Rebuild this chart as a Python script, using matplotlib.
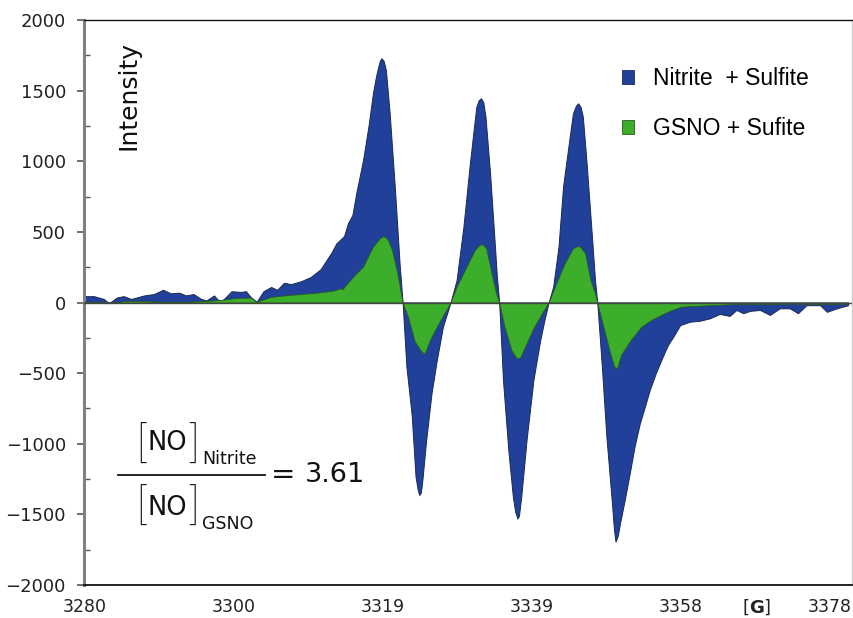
import matplotlib
matplotlib.use("Agg")
import matplotlib.pyplot as plt
from matplotlib.patches import Patch
from matplotlib.lines import Line2D
from matplotlib.ticker import MultipleLocator

# ---- data ----
nitrite_field = [3280.0, 3281.2, 3282.5, 3283.2, 3284.2, 3285.1, 3286.1, 3287.8, 3289.1, 3290.3,
                 3291.3, 3292.4, 3293.3, 3294.3, 3295.3, 3296.0, 3297.0, 3297.4, 3297.9, 3298.3,
                 3299.3, 3300.5, 3301.2, 3301.8, 3302.6, 3303.5, 3304.5, 3305.3, 3306.2, 3307.1,
                 3308.4, 3309.7, 3311.0, 3312.4, 3313.1, 3314.1, 3314.6, 3315.2, 3315.7, 3316.6,
                 3317.3, 3317.9, 3318.3, 3318.6, 3318.8, 3319.0, 3319.3, 3319.6, 3320.1, 3320.8,
                 3321.4, 3321.8, 3322.3,
                 3323.0, 3323.5, 3323.8, 3324.0, 3324.2, 3324.4, 3324.9, 3325.6, 3326.3, 3327.1,
                 3328.1, 3328.9,
                 3329.8, 3330.6, 3331.2, 3331.5, 3331.8, 3332.1, 3332.4, 3332.7, 3333.3, 3333.8,
                 3334.2, 3334.5, 3335.0,
                 3335.7, 3336.3, 3336.6, 3336.9, 3337.1, 3337.4, 3338.1, 3339.0, 3339.9, 3340.5,
                 3341.0, 3341.6,
                 3342.3, 3342.9, 3343.6, 3344.2, 3344.6, 3344.9, 3345.2, 3345.5, 3346.0, 3346.7,
                 3347.1, 3347.4,
                 3348.0, 3348.6, 3349.3, 3349.6, 3349.8, 3350.1, 3350.4, 3351.0, 3351.7, 3352.3,
                 3353.0, 3353.7,
                 3354.3, 3355.1, 3356.0, 3356.7, 3357.4, 3358.3, 3359.6, 3360.9, 3362.2, 3363.5,
                 3364.8, 3365.7, 3366.6, 3367.5, 3368.8, 3370.1, 3371.4, 3372.7, 3373.8, 3374.9,
                 3376.7, 3377.6, 3378.9, 3380.4]
nitrite_int = [45, 45, 25, -5, 35, 45, 25, 50, 60, 90,
               65, 70, 50, 60, 25, 15, 50, 25, 10, 25,
               80, 75, 80, 40, 5, 80, 110, 90, 140, 130,
               150, 180, 235, 350, 420, 470, 560, 620, 773, 1009,
               1245, 1481, 1600, 1669, 1710, 1729, 1712, 1646, 1339, 796,
               277, 0, -454,
               -800, -1233, -1330, -1363, -1345, -1257, -973, -643, -407, -171,
               0, 159,
               537, 961, 1250, 1386, 1432, 1446, 1420, 1316, 915, 513,
               183, 0, -549,
               -1044, -1375, -1480, -1530, -1510, -1375, -973, -549, -265, -112,
               0, 112,
               395, 820, 1103, 1339, 1395, 1410, 1385, 1316, 985, 466,
               159, 0,
               -450, -950, -1400, -1610, -1693, -1650, -1560, -1400, -1200, -1020,
               -855, -730,
               -619, -500, -384, -300, -242, -160, -136, -129, -112, -81,
               -95, -53, -76, -59, -53, -88, -41, -41, -76, -19,
               -19, -66, -41, -19]

gsno_field = [3280.0, 3282.5, 3283.2, 3285.1, 3287.8, 3290.3, 3293.3, 3295.3, 3297.0, 3298.3,
              3299.6, 3301.8, 3302.6, 3304.5, 3306.2, 3308.4, 3310.5, 3312.8, 3313.5, 3313.9,
              3314.9, 3315.6, 3316.6, 3317.2, 3317.9, 3318.8, 3319.2, 3319.5, 3319.9, 3320.4, 3321.1,
              3321.8, 3322.5, 3323.4, 3324.3, 3324.7, 3325.4, 3326.3, 3327.4, 3328.1, 3328.9,
              3330.2, 3331.3, 3331.8, 3332.1, 3332.4, 3332.8, 3333.5, 3334.1, 3334.5, 3335.2, 3336.1,
              3336.7, 3337.0, 3337.3,
              3337.9, 3339.0, 3340.1, 3341.0, 3342.0, 3343.1, 3344.2, 3344.6, 3344.9, 3345.2, 3345.8,
              3346.5,
              3347.1, 3347.4, 3348.2, 3349.1, 3349.6, 3349.8, 3350.1, 3350.5, 3351.8, 3353.2, 3354.5,
              3355.8,
              3357.2, 3358.5, 3360.3, 3363.0, 3366.0, 3368.8, 3372.7, 3376.7, 3380.4]
gsno_int = [5, 5, -5, 10, 10, 5, 5, 10, 15, 20,
            30, 35, 5, 40, 50, 60, 70, 85, 100, 95,
            159, 200, 254, 320, 395, 455, 468, 466, 440, 372, 208,
            0, -100, -277, -348, -363, -265, -171, -65, 0, 112,
            254, 372, 402, 412, 408, 383, 206, 65, 0, -171, -336,
            -388, -395, -385,
            -313, -183, -77, 0, 136, 277, 383, 396, 400, 392, 348,
            159,
            65, 0, -171, -360, -450, -466, -455, -372, -265, -171, -124,
            -88,
            -53, -29, -24, -17, -10, -12, -8, -10, -8]

xtick_pos = [3280, 3299.6, 3319.2, 3338.8, 3358.4, 3378]
xtick_labels = ["3280", "3300", "3319", "3339", "3358", "3378"]
ytick_pos = [-2000, -1500, -1000, -500, 0, 500, 1000, 1500, 2000]

labels = ["Nitrite  + Sulfite", "GSNO + Sufite"]
ratio_text = "3.61"
blue = "#20409A"
green = "#3DAE2B"

plt.rcParams["mathtext.fontset"] = "dejavusans"
fig = plt.figure(figsize=(8.54, 6.18), dpi=100)
ax = fig.add_axes([84/854, 33/618, 768/854, 565/618])

ax.fill_between(nitrite_field, nitrite_int, 0, facecolor=blue, edgecolor="#1a2a55", linewidth=0.7, zorder=2)
ax.fill_between(gsno_field, gsno_int, 0, facecolor=green, edgecolor="#2a5a20", linewidth=0.6, zorder=3)
ax.axhline(0, color="#444444", linewidth=1.0, zorder=4)

ax.set_xlim(3279.9, 3380.9)
ax.set_ylim(-2000, 2000)
ax.set_xticks(xtick_pos)
ax.set_xticklabels(xtick_labels)
ax.set_yticks(ytick_pos)
ax.yaxis.set_minor_locator(MultipleLocator(250))
ax.tick_params(axis="x", length=0, pad=9, labelsize=12.5, labelcolor="#222222")
ax.tick_params(axis="y", which="major", direction="out", length=5, width=1.2,
               color="#555555", pad=8, labelsize=13, labelcolor="#222222")
ax.tick_params(axis="y", which="minor", direction="in", length=4, width=1.0, color="#555555")

ax.spines["left"].set_color("#808080")
ax.spines["left"].set_linewidth(2.2)
ax.spines["bottom"].set_color("#111111")
ax.spines["bottom"].set_linewidth(1.3)
ax.spines["top"].set_color("#111111")
ax.spines["top"].set_linewidth(1.0)
ax.spines["right"].set_color("#cccccc")
ax.spines["right"].set_linewidth(1.0)

ax.text(0.058, 0.962, "Intensity", transform=ax.transAxes, rotation=90,
        ha="center", va="top", fontsize=18, color="#111111")

ax.text(3368.3, -2000, r"$[\mathbf{G}]$", ha="center", va="top",
        fontsize=13, color="#222222",
        transform=ax.transData + matplotlib.transforms.ScaledTranslation(0, -9/72, fig.dpi_scale_trans))

handles = [Patch(facecolor=blue, edgecolor="#1a2a55", linewidth=0.6),
           Patch(facecolor=green, edgecolor="#2a5a20", linewidth=0.6)]
ax.legend(handles, labels, loc="upper left", bbox_to_anchor=(0.70, 0.916), frameon=False,
          prop={"family": "Liberation Sans", "size": 16.5}, handlelength=0.55, handleheight=0.55,
          handletextpad=0.8, labelspacing=1.15, borderpad=0, borderaxespad=0)

# ---- ratio formula, composed from text pieces (positions in figure pixels) ----
W, H = 854, 618
def ftext(x, y, s, **kw):
    fig.text(x / W, 1 - y / H, s, color="#111111", **kw)

bracket_kw = dict(family="Roboto", fontweight="light", fontsize=31, ha="center", va="center")
for yc, yb, sub in [(446.5, 450, "Nitrite"), (508.5, 515, "GSNO")]:
    ftext(141, yc, "[", **bracket_kw)
    ftext(194, yc, "]", **bracket_kw)
    ftext(167.5, yb, "NO", family="DejaVu Sans", fontsize=18.5, ha="center", va="baseline")
    ftext(202, yb + 14, sub, family="DejaVu Sans", fontsize=12.5, ha="left", va="baseline")
fig.add_artist(Line2D([118 / W, 265 / W], [1 - 475 / H, 1 - 475 / H], transform=fig.transFigure,
                      color="#111111", linewidth=1.3))
ftext(283, 483, "=", family="DejaVu Sans", fontsize=21, ha="center", va="baseline")
ftext(305, 482, ratio_text, family="DejaVu Sans", fontsize=19.5, ha="left", va="baseline")

fig.savefig("out.png", dpi=100)
